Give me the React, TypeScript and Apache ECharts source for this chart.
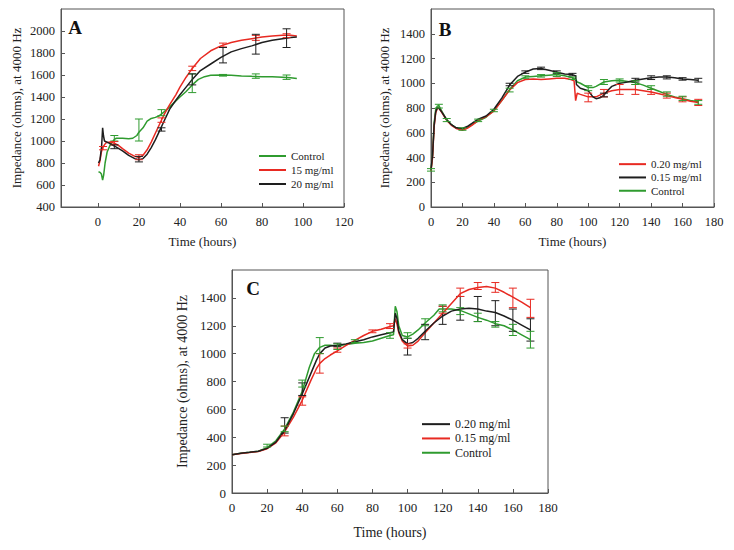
import React, { useEffect, useRef } from 'react';
import * as echarts from 'echarts';

const GREEN = '#2f9b2f';
const RED = '#e82a22';
const BLACK = '#1e1e1e';
const AXIS = '#555';
const TXT = '#222';
const FONT = '"Liberation Serif", "Times New Roman", serif';

// ---------- tick labels ----------
const aTicksX = [0, 20, 40, 60, 80, 100, 120];
const aTicksY = [400, 600, 800, 1000, 1200, 1400, 1600, 1800, 2000];
const bTicksX = [0, 20, 40, 60, 80, 100, 120, 140, 160, 180];
const bTicksY = [0, 200, 400, 600, 800, 1000, 1200, 1400];
const cTicksX = [0, 20, 40, 60, 80, 100, 120, 140, 160, 180];
const cTicksY = [0, 200, 400, 600, 800, 1000, 1200, 1400];

// ---------- panel A ----------
const aControl = [[0.3,720],[1,715],[1.7,700],[2.3,645],[2.8,690],[3.5,800],[4.5,900],[6,965],[8,1015],[9,1025],[12,1025],[15,1020],[17,1025],[19,1050],[20,1080],[22,1120],[24,1180],[26,1205],[28,1215],[30,1230],[32,1260],[35,1310],[38,1365],[40,1400],[43,1450],[46,1510],[49,1560],[52,1585],[55,1598],[60,1600],[65,1597],[70,1592],[75,1588],[80,1585],[85,1583],[90,1580],[94,1575],[97,1568]];
const a15 = [[0.3,770],[1,820],[1.7,900],[2.3,940],[3,960],[4,985],[6,990],[8,980],[10,960],[12,930],[15,890],[18,860],[20,850],[22,870],[24,920],[26,990],[28,1070],[30,1150],[32,1230],[35,1330],[38,1420],[40,1490],[43,1580],[46,1660],[50,1750],[55,1820],[60,1865],[65,1895],[70,1915],[75,1930],[80,1945],[85,1955],[90,1962],[94,1962],[97,1955]];
const a20 = [[0.3,800],[1,830],[1.8,950],[2.3,1120],[2.7,1050],[3.2,1000],[5,985],[7,965],[9,945],[12,910],[15,870],[18,840],[20,830],[22,840],[24,880],[26,940],[28,1010],[30,1090],[32,1170],[35,1290],[38,1370],[40,1420],[43,1490],[46,1560],[50,1640],[55,1700],[60,1760],[65,1810],[70,1840],[75,1865],[80,1895],[85,1915],[90,1930],[94,1940],[97,1945]];
const aControlErr = [[8,1000,1050],[20,1000,1200],[31,1230,1285],[46,1440,1610],[61,1590,1605],[77,1570,1610],[92,1560,1600]];
const a15Err = [[2.5,920,950],[8,965,995],[20,830,875],[31,1170,1210],[46,1640,1680],[61,1855,1890],[77,1915,1960],[92,1940,1975]];
const a20Err = [[8,930,965],[20,810,860],[31,1090,1120],[46,1510,1610],[61,1710,1850],[77,1790,1970],[92,1850,2020]];

// ---------- panel B ----------
const b020 = [[0,290],[1,400],[2,650],[3,760],[4,795],[5,800],[7,760],[10,700],[13,660],[16,635],[20,620],[23,635],[26,660],[30,700],[35,730],[40,775],[45,860],[50,945],[55,1005],[60,1030],[65,1035],[70,1030],[75,1035],[80,1040],[85,1040],[89,1030],[91,1020],[92,860],[93,920],[95,910],[100,890],[105,890],[110,920],[115,940],[120,950],[125,950],[130,950],[135,940],[140,930],[145,915],[150,900],[155,885],[160,870],[165,855],[170,845]];
const b015 = [[0,300],[1,420],[2,660],[3,770],[4,800],[5,800],[7,765],[10,705],[13,665],[16,640],[20,635],[23,650],[26,675],[30,710],[35,735],[40,790],[45,880],[50,985],[55,1055],[60,1090],[65,1115],[70,1120],[75,1105],[80,1090],[85,1075],[90,1070],[92,1060],[92.5,990],[95,960],[100,940],[103,890],[105,875],[108,885],[110,905],[113,950],[115,975],[120,1000],[125,1010],[130,1025],[135,1035],[140,1045],[145,1050],[150,1050],[155,1045],[160,1035],[165,1030],[170,1025]];
const bControl = [[0,300],[1,420],[2,680],[3,790],[4,815],[5,820],[7,770],[10,705],[13,665],[16,640],[20,630],[23,645],[26,665],[30,695],[35,725],[40,780],[45,860],[50,950],[55,1020],[60,1050],[65,1055],[70,1060],[75,1065],[80,1070],[85,1060],[90,1045],[92,1030],[93,1010],[95,1000],[100,965],[103,965],[105,975],[110,1010],[115,1020],[120,1025],[125,1015],[130,1005],[135,985],[140,960],[145,935],[150,910],[155,890],[160,875],[165,860],[170,850]];
const b020Err = [[100,850,920],[110,890,950],[120,910,990],[130,910,990],[140,910,950],[150,880,920],[160,850,890],[170,820,870]];
const b015Err = [[50,980,1000],[60,1080,1100],[70,1110,1130],[80,1080,1100],[90,1060,1080],[110,890,920],[130,1010,1040],[140,1030,1060],[150,1035,1060],[160,1025,1045],[170,1010,1040]];
const bControlErr = [[0,290,310],[5,800,830],[10,690,715],[20,620,640],[30,690,710],[40,770,790],[50,930,960],[60,1040,1060],[70,1050,1070],[80,1055,1085],[90,1030,1050],[100,940,980],[110,990,1030],[120,1010,1035],[130,990,1020],[140,950,980],[150,895,930],[160,860,895],[170,830,860]];

// ---------- panel C ----------
const c020 = [[0,275],[5,285],[10,292],[15,300],[20,320],[25,365],[30,450],[35,570],[40,710],[45,860],[48,950],[50,1000],[53,1040],[56,1055],[60,1060],[65,1070],[70,1085],[75,1100],[80,1120],[85,1135],[90,1150],[92,1155],[93,1290],[94,1250],[95,1160],[97,1100],[100,1070],[103,1080],[106,1110],[110,1160],[115,1220],[120,1270],[125,1305],[130,1320],[135,1325],[140,1320],[145,1305],[150,1295],[155,1270],[160,1240],[165,1205],[170,1170]];
const c015 = [[0,275],[5,283],[10,290],[15,298],[20,318],[25,360],[30,440],[35,545],[40,665],[45,810],[48,890],[50,930],[53,965],[56,990],[60,1020],[65,1060],[70,1095],[75,1130],[80,1160],[85,1175],[90,1195],[92,1200],[93,1250],[94,1210],[95,1150],[97,1090],[100,1055],[103,1060],[106,1090],[110,1150],[115,1220],[120,1290],[125,1360],[130,1430],[135,1460],[140,1475],[145,1482],[150,1470],[155,1440],[160,1405],[165,1370],[170,1330]];
const cControl = [[0,275],[5,285],[10,292],[15,300],[20,325],[25,375],[30,460],[35,580],[40,730],[44,900],[47,1000],[50,1045],[53,1060],[56,1060],[60,1055],[65,1065],[70,1075],[75,1080],[80,1090],[85,1110],[90,1130],[92,1135],[93,1340],[94,1300],[95,1200],[97,1130],[100,1120],[103,1140],[106,1170],[110,1220],[115,1275],[118,1320],[120,1320],[125,1320],[130,1310],[135,1285],[140,1260],[145,1240],[150,1215],[155,1200],[160,1170],[165,1135],[170,1100]];
const c020Err = [[30,430,540],[40,700,790],[60,1050,1075],[100,990,1110],[110,1100,1210],[120,1210,1340],[130,1240,1410],[140,1230,1410],[150,1200,1380],[160,1160,1320],[170,1090,1250]];
const c015Err = [[30,410,480],[40,630,690],[50,860,1000],[60,1010,1040],[80,1150,1170],[90,1180,1215],[100,1040,1070],[120,1290,1340],[130,1410,1470],[140,1460,1510],[150,1440,1510],[160,1330,1470],[170,1260,1390]];
const cControlErr = [[20,330,350],[30,440,480],[40,760,810],[50,1000,1115],[60,1030,1070],[70,1080,1100],[90,1110,1150],[100,1110,1150],[110,1200,1250],[120,1300,1350],[130,1280,1330],[140,1230,1290],[150,1190,1230],[160,1130,1210],[170,1040,1160]];

function lineSeries(name: string, data: number[][], color: string, idx: number, z: number) {
  return {
    type: 'line', name, data, xAxisIndex: idx, yAxisIndex: idx,
    showSymbol: false, symbol: 'none', smooth: false,
    lineStyle: { color, width: 1.5 }, itemStyle: { color }, z, silent: true,
  };
}

function errSeries(data: number[][], color: string, idx: number, z: number) {
  return {
    type: 'custom', xAxisIndex: idx, yAxisIndex: idx, data, z, silent: true,
    encode: { x: 0, y: [1, 2] },
    renderItem: (params: any, api: any) => {
      const x = api.value(0), lo = api.value(1), hi = api.value(2);
      const p1 = api.coord([x, lo]);
      const p2 = api.coord([x, hi]);
      const w = 4;
      const st = { stroke: color, lineWidth: 1 };
      return {
        type: 'group',
        children: [
          { type: 'line', shape: { x1: p1[0], y1: p1[1], x2: p2[0], y2: p2[1] }, style: st },
          { type: 'line', shape: { x1: p1[0] - w, y1: p1[1], x2: p1[0] + w, y2: p1[1] }, style: st },
          { type: 'line', shape: { x1: p2[0] - w, y1: p2[1], x2: p2[0] + w, y2: p2[1] }, style: st },
        ],
      };
    },
  };
}

const plain = (v: number) => String(v);

function xAxisCfg(idx: number, min: number, max: number, ticks: number[], fs: number, nfs: number, nameGap: number) {
  return {
    gridIndex: idx, type: 'value', min, max,
    axisLine: { show: true, onZero: false, lineStyle: { color: AXIS, width: 1 } },
    axisTick: { show: true, inside: true, length: 4, customValues: ticks, lineStyle: { color: AXIS } },
    axisLabel: { customValues: ticks, formatter: plain, fontSize: fs, color: TXT, fontFamily: FONT, margin: 8 },
    splitLine: { show: false },
    name: 'Time (hours)', nameLocation: 'middle', nameGap,
    nameTextStyle: { fontSize: nfs, color: TXT, fontFamily: FONT },
  };
}

function yAxisCfg(idx: number, min: number, max: number, ticks: number[], fs: number, nfs: number, nameGap: number) {
  return {
    gridIndex: idx, type: 'value', min, max, interval: 200,
    axisLine: { show: true, onZero: false, lineStyle: { color: AXIS, width: 1 } },
    axisTick: { show: true, inside: true, length: 4, customValues: ticks, lineStyle: { color: AXIS } },
    axisLabel: { customValues: ticks, formatter: plain, fontSize: fs, color: TXT, fontFamily: FONT, margin: 6 },
    splitLine: { show: false },
    name: 'Impedance (ohms), at 4000 Hz', nameLocation: 'middle', nameGap, nameRotate: 90,
    nameTextStyle: { fontSize: nfs, color: TXT, fontFamily: FONT },
  };
}

function legendCfg(items: [string, string][], left: number, top: number, fs: number, lh: number, iw: number) {
  return {
    orient: 'vertical', left, top, padding: 0, itemGap: 0,
    itemWidth: iw, itemHeight: 2, icon: 'rect', selectedMode: false,
    textStyle: { fontSize: fs, lineHeight: lh, color: TXT, fontFamily: FONT },
    data: items.map(([name, color]) => ({
      name, icon: 'rect',
      itemStyle: { color, borderColor: color, borderWidth: 0 },
      textStyle: { fontSize: fs, lineHeight: lh, color: TXT, fontFamily: FONT },
    })),
  };
}

function panelLabel(text: string, x: number, y: number) {
  return {
    type: 'text', x, y, silent: true,
    style: { text, font: `bold 19px ${FONT}`, fill: '#111', align: 'center', verticalAlign: 'middle' },
  };
}

export default function App() {
  const ref = useRef<HTMLDivElement>(null);
  useEffect(() => {
    if (!ref.current) return;
    const chart = echarts.init(ref.current, undefined, { renderer: 'svg' });
    const option: any = {
      animation: false,
      backgroundColor: '#fff',
      grid: [
        { left: 61, right: 390, top: 9, bottom: 343, show: true, borderColor: AXIS, borderWidth: 1, containLabel: false },
        { left: 431, right: 20, top: 9, bottom: 343, show: true, borderColor: AXIS, borderWidth: 1, containLabel: false },
        { left: 232, right: 186, top: 270, bottom: 57, show: true, borderColor: AXIS, borderWidth: 1, containLabel: false },
      ],
      xAxis: [
        xAxisCfg(0, -18, 120, aTicksX, 12.5, 13, 28),
        xAxisCfg(1, 0, 180, bTicksX, 12.5, 13, 28),
        xAxisCfg(2, 0, 180, cTicksX, 13, 14, 32),
      ],
      yAxis: [
        yAxisCfg(0, 400, 2200, aTicksY, 12.5, 13, 38),
        yAxisCfg(1, 0, 1600, bTicksY, 12.5, 13, 40),
        yAxisCfg(2, 0, 1600, cTicksY, 13, 14, 43),
      ],
      legend: [
        legendCfg([['Control', GREEN], ['15 mg/ml', RED], ['20 mg/ml', BLACK]], 259, 149, 11, 14, 27),
        legendCfg([['0.20 mg/ml', RED], ['0.15 mg/ml', BLACK], ['Control', GREEN]], 619, 157.5, 11, 13.3, 27),
        legendCfg([['0.20 mg/ml', BLACK], ['0.15 mg/ml', RED], ['Control', GREEN]], 422, 417, 12, 14.3, 28),
      ],
      graphic: [
        panelLabel('A', 75, 27),
        panelLabel('B', 445, 29),
        panelLabel('C', 253, 288),
      ],
      series: [
        lineSeries('Control', aControl, GREEN, 0, 2),
        lineSeries('15 mg/ml', a15, RED, 0, 3),
        lineSeries('20 mg/ml', a20, BLACK, 0, 4),
        errSeries(aControlErr, GREEN, 0, 5),
        errSeries(a15Err, RED, 0, 5),
        errSeries(a20Err, BLACK, 0, 5),

        lineSeries('0.20 mg/ml', b020, RED, 1, 3),
        lineSeries('0.15 mg/ml', b015, BLACK, 1, 4),
        lineSeries('Control', bControl, GREEN, 1, 2),
        errSeries(b020Err, RED, 1, 5),
        errSeries(b015Err, BLACK, 1, 5),
        errSeries(bControlErr, GREEN, 1, 5),

        lineSeries('0.20 mg/ml', c020, BLACK, 2, 4),
        lineSeries('0.15 mg/ml', c015, RED, 2, 3),
        lineSeries('Control', cControl, GREEN, 2, 2),
        errSeries(c020Err, BLACK, 2, 5),
        errSeries(c015Err, RED, 2, 5),
        errSeries(cControlErr, GREEN, 2, 5),
      ],
    };
    chart.setOption(option);
    return () => chart.dispose();
  }, []);
  return <div ref={ref} style={{ position: 'fixed', left: 0, top: 0, width: 734, height: 550 }} />;
}
